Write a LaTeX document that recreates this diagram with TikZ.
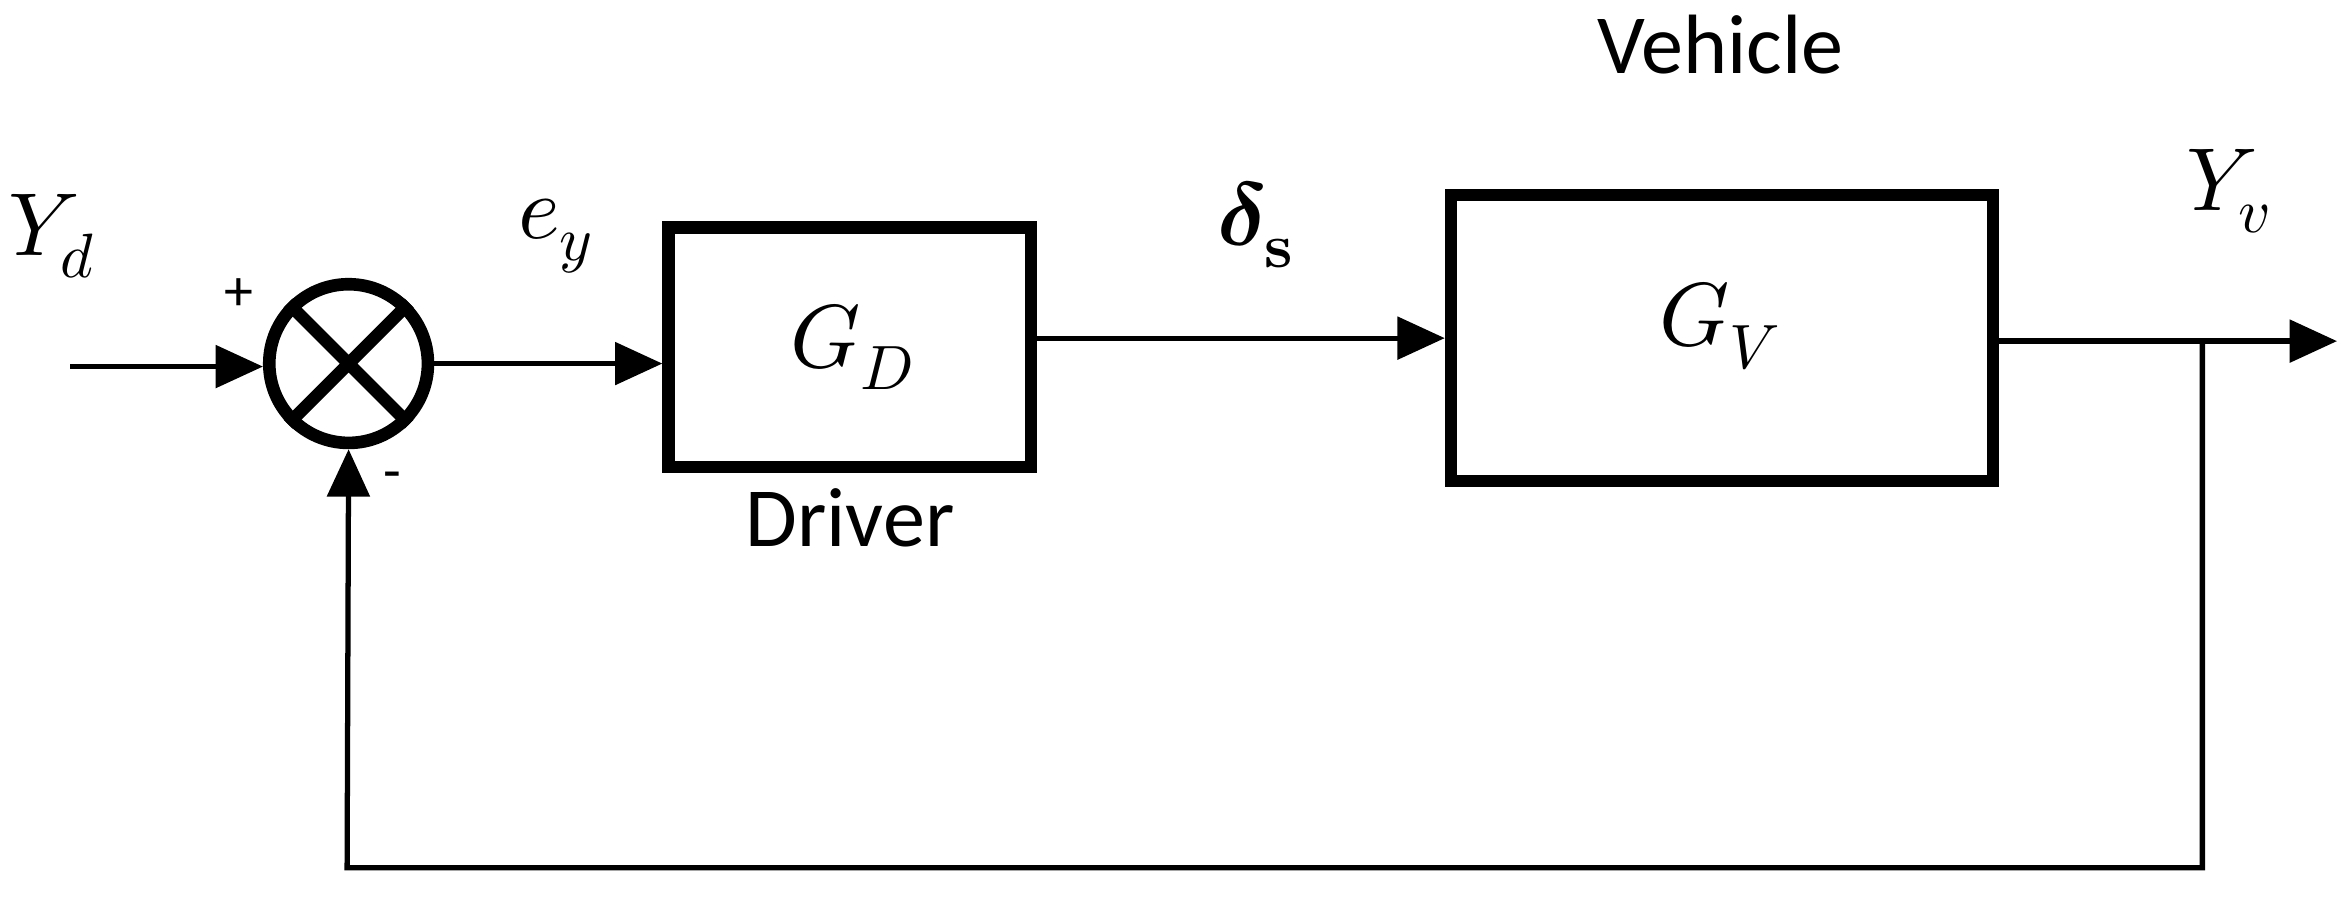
\documentclass[tikz,border=0pt]{standalone}
\usepackage{fontspec}
\setmainfont{Carlito}
\usepackage{unicode-math}
\setmathfont{Latin Modern Math}
\usetikzlibrary{arrows.meta}
\begin{document}
\begin{tikzpicture}[x=0.01cm,y=-0.01cm,
  blk/.style={draw,line width=2.4pt,minimum width=2.42cm,minimum height=1.6cm,inner sep=0pt},
  sig/.style={line width=1pt,-{Triangle[length=9pt,width=8pt]}},
  lbl/.style={font=\fontsize{17}{17}\selectfont}]
\useasboundingbox (0,0) rectangle (1568,606);
% summing junction
\node[circle,draw,line width=2.4pt,minimum size=1.06cm,inner sep=0pt] (sum) at (233,243) {};
\draw[line width=2.4pt] (sum.north west) -- (sum.south east) (sum.north east) -- (sum.south west);
% blocks
\node[blk] (gd) at (568,232) {};
\node[lbl] at (570,232) {$G_D$};
\node[blk,minimum width=3.62cm,minimum height=1.91cm] (gv) at (1151,226) {};
\node[lbl] at (1150,218) {$G_V$};
% texts
\node[font=\fontsize{16}{16}\selectfont] (drv) at (568,346) {Driver};
\node[font=\fontsize{16}{16}\selectfont] (veh) at (1150,30) {Vehicle};
\node[lbl] (yd) at (35,158) {$Y_d$};
\node[lbl] (ey) at (372,158) {$e_y$};
\node[lbl] (ds) at (840,150) {$\symbf{\delta_s}$};
\node[lbl] (yv) at (1490,128) {$Y_v$};
\node[font=\fontsize{11}{11}\selectfont] (plus) at (160,197) {+};
\node[font=\fontsize{11}{11}\selectfont] (minus) at (262,322) {-};
% connectors
\coordinate (in) at (47,245);
\coordinate (out) at (1562,228);
\coordinate (tap) at (1472,228);
\coordinate (bot) at (232,580);
\draw[sig] (in) -- (sum.west |- in);
\draw[sig] (sum.east) -- (gd.west |- sum.east);
\draw[sig] (gd.east |- 0,226) -- (gv.west |- 0,226);
\draw[sig] (gv.east |- out) -- (out);
\draw[sig] (tap) -- (tap |- bot) -- (bot) -- (sum.south);
\end{tikzpicture}
\end{document}
